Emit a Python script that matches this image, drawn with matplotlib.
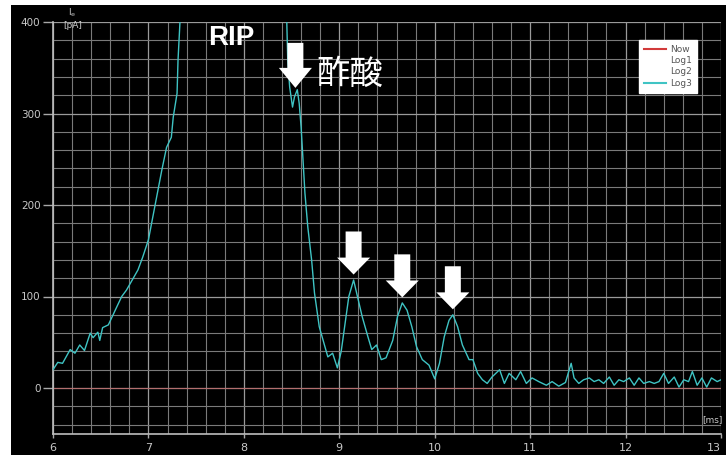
import matplotlib
matplotlib.use("Agg")
import matplotlib.pyplot as plt
from matplotlib.lines import Line2D
from matplotlib.patches import Rectangle
from matplotlib.ticker import MultipleLocator

# Ion current trace (Log3): drift time [ms] vs current [pA]
drift_ms = [6.00, 6.05, 6.10, 6.18, 6.23, 6.28, 6.33, 6.39, 6.42, 6.47, 6.49, 6.52,
            6.58, 6.62, 6.67, 6.72, 6.77, 6.83, 6.89, 6.94, 7.00, 7.07, 7.14, 7.19,
            7.24, 7.26, 7.30, 7.31, 7.33, 7.38, 7.60, 8.00, 8.30, 8.42, 8.45, 8.46,
            8.48, 8.51, 8.53, 8.56, 8.58, 8.60, 8.62, 8.64, 8.67, 8.71, 8.74, 8.79,
            8.85, 8.88, 8.93, 8.98, 9.02, 9.07, 9.10, 9.15, 9.19, 9.24, 9.30, 9.34,
            9.39, 9.44, 9.49, 9.56, 9.61, 9.66, 9.71, 9.76, 9.81, 9.87, 9.94, 10.00,
            10.05, 10.10, 10.15, 10.19, 10.24, 10.29, 10.36, 10.40, 10.45, 10.50, 10.55,
            10.60, 10.68, 10.73, 10.78, 10.85, 10.90, 10.96, 11.02, 11.09, 11.17, 11.23,
            11.30, 11.37, 11.43, 11.46, 11.51, 11.56, 11.62, 11.67, 11.72, 11.77, 11.83,
            11.88, 11.93, 11.98, 12.04, 12.09, 12.14, 12.19, 12.25, 12.30, 12.35, 12.40,
            12.45, 12.51, 12.56, 12.61, 12.66, 12.70, 12.75, 12.80, 12.85, 12.90, 12.96,
            13.00]
current_pa = [20, 28, 27, 42, 38, 47, 41, 60, 55, 61, 52, 66,
              69, 78, 89, 100, 107, 118, 129, 143, 162, 200, 238, 263,
              274, 296, 322, 358, 399, 470, 800, 1000, 700, 450, 399, 358,
              329, 307, 318, 326, 311, 285, 249, 213, 176, 140, 104, 67,
              45, 34, 38, 22, 40, 78, 100, 118, 100, 78, 56, 42,
              47, 31, 33, 52, 78, 93, 85, 67, 45, 31, 25, 10,
              27, 56, 74, 80, 67, 47, 31, 31, 16, 9, 5,
              12, 20, 5, 16, 9, 18, 5, 11, 7, 3, 7,
              2, 6, 27, 11, 5, 9, 11, 7, 9, 5, 12,
              3, 9, 7, 11, 3, 11, 5, 7, 5, 7, 16,
              5, 12, 1, 9, 7, 18, 3, 11, 1, 11, 7,
              9]

# Live trace (Now) sits on the baseline
now_ms = [6.0, 13.0]
now_pa = [0.0, 0.0]

x_ticks = [6, 7, 8, 9, 10, 11, 12, 13]
y_ticks = [0, 100, 200, 300, 400]

# Marked peaks
acetic_ms, acetic_pa = 8.54, 328
peak_ms = [9.15, 9.66, 10.19]
peak_pa = [118, 93, 80]

legend_labels = ["Now", "Log1", "Log2", "Log3"]
legend_colors = ["#d23a3a", "#ffffff", "#ffffff", "#3fc4c4"]

W, H = 726, 455
fig = plt.figure(figsize=(W / 100, H / 100), dpi=100, facecolor="white")
fig.patches.append(Rectangle((11 / W, 0), 1, (H - 5) / H, transform=fig.transFigure,
                             facecolor="black", edgecolor="none", zorder=-10))

ax = fig.add_axes([53 / W, (H - 433.75) / H, (721 - 53) / W, (433.75 - 22) / H])
ax.set_facecolor("black")
ax.set_xlim(6, 13)
ax.set_ylim(-50, 400)

ax.xaxis.set_minor_locator(MultipleLocator(0.2))
ax.yaxis.set_minor_locator(MultipleLocator(20))
ax.grid(which="major", color="#9a9a9a", lw=0.9)
ax.grid(which="minor", color="#7a7a7a", lw=0.8)
ax.set_axisbelow(True)

ax.set_xticks(x_ticks)
ax.set_yticks(y_ticks)
tick_font = dict(family=["Liberation Sans Narrow", "DejaVu Sans"])
ax.set_xticklabels([str(v) for v in x_ticks], fontsize=8, color="#c8c8c8", **tick_font)
ax.set_yticklabels([str(v) for v in y_ticks], fontsize=7.5, color="#c8c8c8", **tick_font)
# last x label sits against the right edge
ax.get_xticklabels()[-1].set_horizontalalignment("right")
ax.tick_params(axis="y", which="major", length=7, width=1, color="#a8a8a8", pad=2)
ax.tick_params(axis="x", which="major", length=3, width=1, color="#a8a8a8", pad=4)
ax.tick_params(which="minor", length=0)

for side in ("top", "right"):
    ax.spines[side].set_visible(False)
for side in ("left", "bottom"):
    ax.spines[side].set_color("#bdbdbd")
    ax.spines[side].set_linewidth(1.2)

ax.plot(now_ms, now_pa, color=legend_colors[0], lw=0.8, alpha=0.45, zorder=2)
ax.plot(drift_ms, current_pa, color=legend_colors[3], lw=1.0, zorder=3)

# Axis unit labels
fig.text(72 / W, 1 - 13 / H, "I$_\\mathregular{e}$", fontsize=6.5, color="#c8c8c8",
         ha="center", va="center")
fig.text(73 / W, 1 - 26 / H, "[pA]", fontsize=6.5, color="#c8c8c8",
         ha="center", va="center")
fig.text(712 / W, 1 - 420 / H, "[ms]", fontsize=6.5, color="#c8c8c8",
         ha="center", va="center")

# Annotations
ax.text(7.87, 382, "RIP", fontsize=20, fontweight="bold", color="white",
        family=["Liberation Sans", "DejaVu Sans"], ha="center", va="center", zorder=5)
ax.text(9.11, 343, "酢酸", fontsize=24, color="white",
        family=["Noto Sans CJK JP", "DejaVu Sans"], ha="center", va="center", zorder=5)


def down_arrow(x, y, length, head_len):
    ax.annotate("", xy=(x, y), xytext=(0, length), textcoords="offset points",
                arrowprops=dict(arrowstyle=f"simple,head_length={head_len},"
                                           f"head_width=23.8,tail_width=11.5",
                                fc="white", ec="none", shrinkA=0, shrinkB=0,
                                mutation_scale=1),
                zorder=6, annotation_clip=False)


down_arrow(acetic_ms, acetic_pa, 32.4, 14.4)
for px, py in zip(peak_ms, peak_pa):
    down_arrow(px, py + 6, 31, 12.2)

handles = [Line2D([], [], color=c, lw=1.5) for c in legend_colors]
leg = ax.legend(handles, legend_labels, loc="upper right",
                bbox_to_anchor=(702 / W, 1 - 35 / H), bbox_transform=fig.transFigure,
                fontsize=6.5, frameon=True, fancybox=False, framealpha=1,
                facecolor="white", edgecolor="white", handlelength=2.4,
                handletextpad=0.5, labelspacing=0.25, borderpad=0.6)
for t in leg.get_texts():
    t.set_color("#555555")
leg.set_zorder(7)

fig.savefig("out.png", dpi=100, facecolor=fig.get_facecolor())
